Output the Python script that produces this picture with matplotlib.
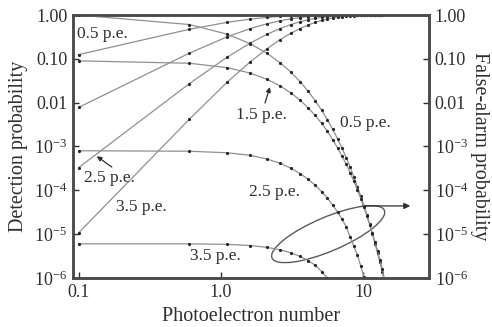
import matplotlib.pyplot as plt
from matplotlib.patches import Ellipse
from matplotlib.ticker import NullLocator
from matplotlib.transforms import ScaledTranslation

plt.rcParams['font.family'] = ['Liberation Serif', 'DejaVu Serif']
plt.rcParams['mathtext.fontset'] = 'stix'

# photoelectron numbers of the computed points (step 0.5)
n_pe = [0.1, 0.6, 1.1, 1.6, 2.1, 2.6, 3.1, 3.6, 4.1, 4.6, 5.1, 5.6, 6.1, 6.6,
        7.1, 7.6, 8.1, 8.6, 9.1, 9.6, 10.1, 10.6, 11.1, 11.6, 12.1, 12.6,
        13.1, 13.6, 14.1]

# detection probability, thresholds 0.5 / 1.5 / 2.5 / 3.5 p.e.
det_05 = [0.125, 0.473, 0.680, 0.806, 0.882, 0.929, 0.957, 0.974, 0.984, 0.990,
          0.994, 0.996, 0.998, 0.999, 1.0, 1.0, 1.0, 1.0, 1.0, 1.0, 1.0, 1.0,
          1.0, 1.0, 1.0, 1.0, 1.0, 1.0]
det_15 = [0.0078, 0.135, 0.316, 0.488, 0.630, 0.740, 0.821, 0.878, 0.918, 0.946,
          0.964, 0.976, 0.985, 0.990, 0.994, 0.996, 0.997, 0.998, 0.999, 1.0,
          1.0, 1.0, 1.0, 1.0, 1.0, 1.0, 1.0, 1.0]
det_25 = [3.3e-4, 0.0272, 0.108, 0.227, 0.361, 0.492, 0.607, 0.704, 0.782, 0.842,
          0.887, 0.920, 0.944, 0.961, 0.973, 0.982, 0.988, 0.992, 0.994, 0.996,
          0.998, 0.998, 0.999, 0.999, 1.0, 1.0, 1.0, 1.0]
det_35 = [1.07e-5, 0.0042, 0.0289, 0.0843, 0.169, 0.273, 0.384, 0.493, 0.593, 0.681,
          0.754, 0.814, 0.861, 0.897, 0.925, 0.946, 0.961, 0.973, 0.981, 0.987,
          0.991, 0.994, 0.996, 0.997, 0.998, 0.999, 0.999, 0.999]

# false-alarm probability, same thresholds
fa_05 = [1.0, 0.607, 0.368, 0.223, 0.135, 0.0821, 0.0498, 0.0302, 0.0183, 0.0111,
         6.74e-3, 4.09e-3, 2.48e-3, 1.50e-3, 9.1e-4, 5.5e-4, 3.4e-4, 2.0e-4, 1.2e-4,
         7.5e-5, 4.5e-5, 2.8e-5, 1.7e-5, 1.0e-5, 6.1e-6, 3.7e-6, 2.3e-6, 1.4e-6, 8.3e-7]
fa_15 = [0.090, 0.0794, 0.0632, 0.0475, 0.0343, 0.0242, 0.0167, 0.0114, 7.6e-3, 5.1e-3,
         3.36e-3, 2.21e-3, 1.44e-3, 9.3e-4, 6.0e-4, 3.9e-4, 2.5e-4, 1.6e-4, 1.02e-4,
         6.5e-5, 4.1e-5, 2.6e-5, 1.65e-5, 1.04e-5, 6.6e-6, 4.2e-6, 2.6e-6, 1.6e-6, 9.5e-7]
fa_25 = [8.0e-4, 7.8e-4, 7.2e-4, 6.3e-4, 5.2e-4, 4.15e-4, 3.2e-4, 2.4e-4, 1.8e-4, 1.3e-4,
         9.3e-5, 6.6e-5, 4.6e-5, 3.2e-5, 2.2e-5, 1.45e-5, 8.5e-6, 5.3e-6, 3.3e-6, 1.9e-6,
         1.05e-6, 5.5e-7]
fa_35 = [6.0e-6, 6.0e-6, 5.85e-6, 5.5e-6, 5.0e-6, 4.4e-6, 3.75e-6, 3.1e-6, 2.5e-6,
         1.95e-6, 1.4e-6, 1.0e-6, 7.0e-7]

yticks = [1.0, 0.1, 0.01, 1e-3, 1e-4, 1e-5, 1e-6]
ylabels = ['1.00', '0.10', '0.01', r'$\mathregular{10^{-3}}$', r'$\mathregular{10^{-4}}$',
           r'$\mathregular{10^{-5}}$', r'$\mathregular{10^{-6}}$']
xticks = [0.1, 1.0, 10]
xlabels = ['0.1', '1.0', '10']

line_c = '#909090'
mark_c = '#262626'
txt_c = '#2e2e2e'

fig = plt.figure(figsize=(4.92, 3.27), dpi=100)
ax = fig.add_axes([0.148, 0.150, 0.724, 0.804])
ax2 = ax.twinx()

for ys in [det_05, det_15, det_25, det_35]:
    ax.plot(n_pe[:len(ys)], ys, '-o', color=line_c, lw=0.9, ms=2.3,
            mfc=mark_c, mec=mark_c, mew=0)
for ys in [fa_05, fa_15, fa_25, fa_35]:
    ax2.plot(n_pe[:len(ys)], ys, '-o', color=line_c, lw=0.9, ms=2.3,
             mfc=mark_c, mec=mark_c, mew=0)

for a in [ax, ax2]:
    a.set_xscale('log')
    a.set_yscale('log')
    a.set_ylim(1e-6, 1.0)
    a.set_yticks(yticks)
    a.set_yticklabels(ylabels)
    a.yaxis.set_minor_locator(NullLocator())
    a.tick_params(direction='in', length=4, width=1, labelsize=13, pad=4,
                  colors=txt_c)
    for s in a.spines.values():
        s.set_linewidth(1.8)
        s.set_color('#4a4a4a')
ax.set_xlim(0.091, 29)
ax.set_xticks(xticks)
ax.set_xticklabels(xlabels)
ax.xaxis.set_minor_locator(NullLocator())

ax.set_xlabel('Photoelectron number', fontsize=14.5, color=txt_c, labelpad=5)
ax.set_ylabel('Detection probability', fontsize=14.5, color=txt_c, labelpad=4)
ax2.set_ylabel('False-alarm probability', fontsize=14.5, color=txt_c,
               rotation=270, labelpad=15)

fs = 12.5
ax.text(0.097, 0.37, '0.5 p.e.', fontsize=fs, color=txt_c, ha='left', va='center')
ax.text(1.94, 0.0052, '1.5 p.e.', fontsize=fs, color=txt_c, ha='center', va='center')
ax.text(0.165, 1.9e-4, '2.5 p.e.', fontsize=fs, color=txt_c, ha='center', va='center')
ax.text(0.278, 4.1e-5, '3.5 p.e.', fontsize=fs, color=txt_c, ha='center', va='center')
ax.text(0.908, 3.2e-6, '3.5 p.e.', fontsize=fs, color=txt_c, ha='center', va='center')
ax.text(2.36, 9.1e-5, '2.5 p.e.', fontsize=fs, color=txt_c, ha='center', va='center')
ax.text(10.3, 3.4e-3, '0.5 p.e.', fontsize=fs, color=txt_c, ha='center', va='center')

arr = dict(arrowstyle='-|>', color=txt_c, lw=0.9, mutation_scale=7,
           shrinkA=0, shrinkB=0)
ax.annotate('', xy=(2.21, 0.0227), xytext=(2.04, 0.0098), arrowprops=arr)
ax.annotate('', xy=(0.134, 6.0e-4), xytext=(0.171, 3.4e-4), arrowprops=arr)
ax.annotate('', xy=(21.4, 4.4e-5), xytext=(9.84, 4.4e-5),
            arrowprops=dict(arrowstyle='-|>', color=txt_c, lw=0.9,
                            mutation_scale=9, shrinkA=0, shrinkB=0))

# loop around the false-alarm curves
tr = fig.dpi_scale_trans + ScaledTranslation(5.67, 1.0e-5, ax.transData)
ax.add_patch(Ellipse((0, 0), 1.22, 0.34, angle=23, transform=tr, fill=False,
                     ec='#5a5a5a', lw=1.0))

fig.savefig('out.png', dpi=100)
